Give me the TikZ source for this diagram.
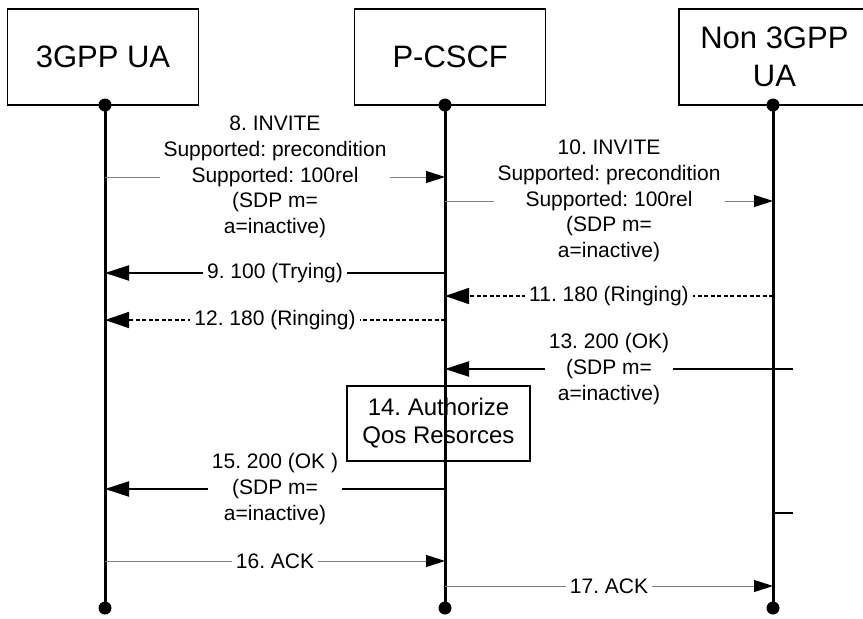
\documentclass[tikz,border=0pt]{standalone}
\usepackage{fontspec}
\setmainfont{Liberation Sans}
\usetikzlibrary{arrows.meta,positioning}
\frenchspacing

\begin{document}
\begin{tikzpicture}[
  x=1pt,y=-1pt,
  party/.style={rectangle,draw=black,line width=1.2pt,minimum width=191pt,minimum height=96pt,inner sep=0pt,align=center,font=\fontsize{31}{38}\selectfont},
  action/.style={rectangle,draw=black,fill=white,line width=1.2pt,minimum width=183pt,minimum height=75pt,inner sep=0pt,align=center,font=\fontsize{24}{28}\selectfont},
  life/.style={line width=3pt},
  dot/.style={circle,fill=black,inner sep=0pt,minimum size=13pt},
  lbl/.style={fill=white,inner xsep=4pt,inner ysep=0pt,align=center,font=\fontsize{21}{25.7}\selectfont},
  req/.style={-{Triangle[length=19pt,width=12pt,color=black]},line width=1pt,draw=gray},
  resp/.style={-{Triangle[length=24pt,width=15pt]},line width=2pt},
  prov/.style={-{Triangle[length=24pt,width=16pt]},line width=1.5pt,dash pattern=on 4pt off 2.5pt},
  stub/.style={line width=2pt}
]
\useasboundingbox (0,0) rectangle (863,619);

% parties
\node[party] (ua) at (103,57) {3GPP UA};
\node[party,right=155pt of ua] (pcscf) {P-CSCF};
\node[party,right=132pt of pcscf] (nonua) {Non 3GPP\\UA};

% 14: local step at the P-CSCF
\node[action] (auth) at (438.5,423.5) {14. Authorize\\Qos Resorces};

% lifelines
\coordinate (uatop) at (105,105);
\coordinate (pctop) at (445,105);
\coordinate (nutop) at (773,105);
\coordinate (uaend) at (105,608);
\coordinate (pcend) at (445,608);
\coordinate (nuend) at (773,608);
\draw[life] (uatop) -- (uaend);
\draw[life] (pctop) -- (pcend);
\draw[life] (nutop) -- (nuend);
\foreach \p in {uatop,pctop,nutop,uaend,pcend,nuend}
  \node[dot] at (\p) {};

% messages
\draw[req] (uatop |- 0,177) -- node[lbl] {8. INVITE\\Supported: precondition\\Supported: 100rel\\(SDP m=\\a=inactive)} (pctop |- 0,177);
\draw[resp] (pctop |- 0,273) -- node[lbl] {9. 100 (Trying)} (uatop |- 0,273);
\draw[req] (pctop |- 0,201) -- node[lbl] {10. INVITE\\Supported: precondition\\Supported: 100rel\\(SDP m=\\a=inactive)} (nutop |- 0,201);
\draw[prov] (nutop |- 0,296) -- node[lbl] {11. 180 (Ringing)} (pctop |- 0,296);
\draw[prov] (pctop |- 0,320) -- node[lbl] {12. 180 (Ringing)} (uatop |- 0,320);
\draw[resp] (nutop |- 0,369) -- node[lbl] {13. 200 (OK)\\(SDP m=\\a=inactive)} (pctop |- 0,369);
\draw[resp] (pctop |- 0,489) -- node[lbl] {15. 200 (OK )\\(SDP m=\\a=inactive)} (uatop |- 0,489);
\draw[req] (uatop |- 0,561) -- node[lbl] {16. ACK} (pctop |- 0,561);
\draw[req] (pctop |- 0,586) -- node[lbl] {17. ACK} (nutop |- 0,586);

% stubs to the right of the Non 3GPP UA
\coordinate (stuba) at (793,369);
\coordinate (stubb) at (793,513);
\draw[stub] (nutop |- stuba) -- (stuba);
\draw[stub] (nutop |- stubb) -- (stubb);
\end{tikzpicture}
\end{document}
